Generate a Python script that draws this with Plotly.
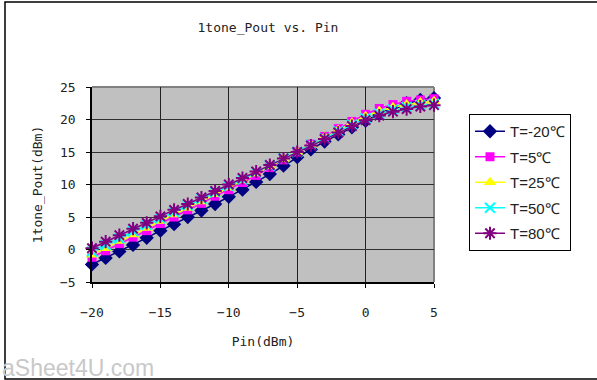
import plotly.graph_objects as go

W, H = 597, 380

pin = [-20, -19, -18, -17, -16, -15, -14, -13, -12, -11, -10, -9, -8, -7, -6,
       -5, -4, -3, -2, -1, 0, 1, 2, 3, 4, 5]

pout_m20 = [-2.3, -1.3, -0.3, 0.7, 1.8, 2.9, 3.9, 5.0, 6.0, 7.0, 8.1, 9.2, 10.4,
            11.6, 12.9, 14.2, 15.4, 16.6, 17.7, 18.8, 19.8, 20.9, 21.8, 22.5, 23.0, 23.3]
pout_5 = [-1.2, -0.2, 0.9, 1.9, 2.9, 4.0, 5.0, 6.1, 7.1, 8.2, 9.2, 10.3, 11.4,
          12.6, 13.8, 15.0, 16.2, 17.4, 18.6, 19.7, 20.8, 21.7, 22.3, 22.8, 23.0, 23.2]
pout_25 = [-0.8, 0.2, 1.3, 2.3, 3.3, 4.4, 5.4, 6.4, 7.4, 8.5, 9.5, 10.6, 11.7,
           12.8, 13.9, 15.0, 16.1, 17.3, 18.4, 19.5, 20.5, 21.3, 21.9, 22.3, 22.6, 22.8]
pout_50 = [-0.3, 0.7, 1.7, 2.8, 3.8, 4.8, 5.8, 6.8, 7.8, 8.8, 9.8, 10.8, 11.9,
           12.9, 14.0, 15.0, 16.1, 17.1, 18.2, 19.2, 20.2, 20.9, 21.5, 21.9, 22.2, 22.4]
pout_80 = [0.2, 1.2, 2.2, 3.2, 4.1, 5.1, 6.1, 7.0, 8.0, 9.0, 10.0, 11.0, 12.0,
           13.0, 14.0, 15.0, 16.0, 17.0, 18.0, 19.0, 19.9, 20.6, 21.2, 21.6, 22.0, 22.2]

names = ["T=-20℃", "T=5℃", "T=25℃", "T=50℃", "T=80℃"]
series = [pout_m20, pout_5, pout_25, pout_50, pout_80]
colors = ["#000080", "#FF00FF", "#FFFF00", "#00FFFF", "#800080"]
symbols = ["diamond", "square", "triangle-up", "x-thin", "asterisk"]
sizes = [11, 9, 11, 10, 11]

x_ticks = [-20, -15, -10, -5, 0, 5]
y_ticks = [-5, 0, 5, 10, 15, 20, 25]

mono = "DejaVu Sans Mono"

fig = go.Figure()
for name, ys, c, s, sz in zip(names, series, colors, symbols, sizes):
    line_only = s in ("x-thin", "asterisk")
    fig.add_trace(go.Scatter(
        x=pin, y=ys, name=name, mode="lines+markers", legendgroup=name,
        line=dict(color=c, width=1.5),
        marker=dict(symbol=s, size=sz, color=c,
                    line=dict(color=c, width=2 if line_only else 0)),
        cliponaxis=False,
    ))

# plot area in pixels
px0, px1, py0, py1 = 92, 434, 87, 282

fig.update_layout(
    width=W, height=H,
    margin=dict(l=0, r=0, t=0, b=0),
    paper_bgcolor="white",
    plot_bgcolor="#C0C0C0",
    showlegend=True,
    legend=dict(
        x=469 / W, xanchor="left", y=1 - 114 / H, yanchor="top",
        bordercolor="black", borderwidth=1, bgcolor="white",
        font=dict(family="Liberation Sans", size=15, color="#222"),
        tracegroupgap=3, traceorder="grouped",
        entrywidth=100,
    ),
    title=dict(text="1tone_Pout vs. Pin", x=268 / W, xanchor="center",
               y=1 - 27 / H, yanchor="middle",
               font=dict(family=mono, size=13, color="#222")),
    xaxis=dict(
        domain=[px0 / W, px1 / W], range=[-20, 5], tickvals=x_ticks,
        showgrid=True, gridcolor="#202020", gridwidth=1, zeroline=False,
        showline=True, linecolor="black", linewidth=1.5,
        ticks="outside", ticklen=4, tickcolor="black",
        ticklabelstandoff=14,
        tickfont=dict(family=mono, size=13, color="#222"),
        title=dict(text="Pin(dBm)", font=dict(family=mono, size=13, color="#222"),
                   standoff=18),
        automargin=False,
    ),
    yaxis=dict(
        domain=[1 - py1 / H, 1 - py0 / H], range=[-5, 25], tickvals=y_ticks,
        showgrid=True, gridcolor="#303030", gridwidth=1, zeroline=False,
        showline=True, linecolor="black", linewidth=1.5,
        ticks="outside", ticklen=4, tickcolor="black",
        ticklabelstandoff=8,
        tickfont=dict(family=mono, size=13, color="#222"),
        title=dict(text="1tone_Pout(dBm)", font=dict(family=mono, size=13, color="#222"),
                   standoff=14),
        automargin=False,
    ),
    shapes=[
        dict(type="rect", xref="paper", yref="paper",
             x0=5 / W, x1=1.02, y0=1 - 379 / H, y1=1 - 2 / H,
             line=dict(color="black", width=1.5), layer="below"),
        dict(type="line", xref="x domain", yref="y domain",
             x0=0, x1=1, y0=1, y1=1, line=dict(color="#808080", width=2), layer="below"),
        dict(type="line", xref="x domain", yref="y domain",
             x0=1, x1=1, y0=0, y1=1, line=dict(color="#808080", width=2), layer="below"),
    ],
    annotations=[
        dict(text="aSheet4U.com", xref="paper", yref="paper",
             x=0, xanchor="left", y=1 - 368 / H, yanchor="middle",
             showarrow=False,
             font=dict(family="Liberation Sans", size=23, color="#C8C8C8")),
    ],
)

fig.write_html("out.html")
